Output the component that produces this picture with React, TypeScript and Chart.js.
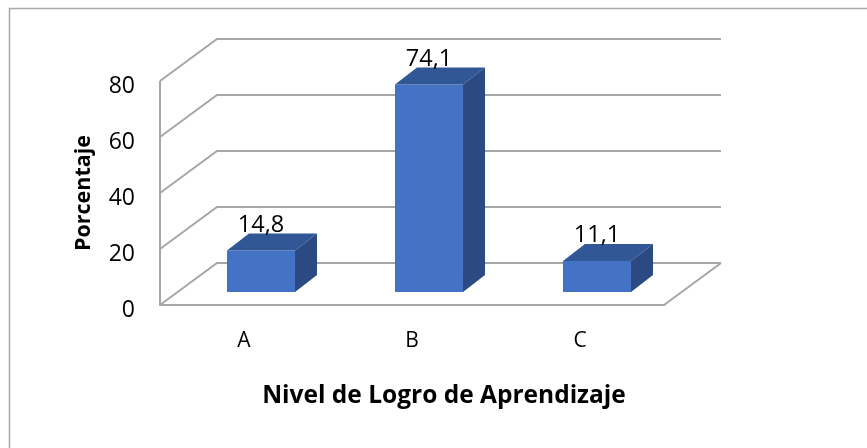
import React, { useEffect, useRef } from "react";
import { Chart, registerables } from "chart.js";

Chart.register(...registerables);

const categories = ["A", "B", "C"];
const values = [14.8, 74.1, 11.1];
const valueLabels = ["14,8", "74,1", "11,1"];
const yTicks = [0, 20, 40, 60, 80];
const yTitle = "Porcentaje";
const xTitle = "Nivel de Logro de Aprendizaje";

const FONT = "'Open Sans', sans-serif";
const GRID = "#a6a6a6";
const TEXT = "#000000";

const WALL_DX = 57;
const WALL_DY = -42;
const BAR_SHIFT_X = 17;
const BAR_SHIFT_Y = -13;
const BAR_DX = 22;
const BAR_DY = -17;

const decor = {
  id: "decor3d",
  beforeDatasetsDraw(chart: any) {
    const { ctx, chartArea, scales } = chart;
    const y = scales.y;
    ctx.save();
    // Page frame
    ctx.strokeStyle = "#a9a9a9";
    ctx.lineWidth = 1.5;
    ctx.beginPath();
    ctx.moveTo(9.5, 448);
    ctx.lineTo(9.5, 8.5);
    ctx.lineTo(867, 8.5);
    ctx.stroke();
    // 3D walls
    ctx.strokeStyle = GRID;
    ctx.lineWidth = 2;
    const l = chartArea.left;
    const r = chartArea.right;
    yTicks.forEach((t) => {
      const py = y.getPixelForValue(t);
      ctx.beginPath();
      ctx.moveTo(l, py);
      ctx.lineTo(l + WALL_DX, py + WALL_DY);
      ctx.lineTo(r + WALL_DX, py + WALL_DY);
      ctx.stroke();
    });
    ctx.beginPath();
    ctx.moveTo(l, y.getPixelForValue(80));
    ctx.lineTo(l, y.getPixelForValue(0));
    ctx.lineTo(r, y.getPixelForValue(0));
    ctx.lineTo(r + WALL_DX, y.getPixelForValue(0) + WALL_DY);
    ctx.stroke();
    ctx.restore();
    // Bars are drawn shifted back on the floor
    ctx.save();
    ctx.translate(BAR_SHIFT_X, BAR_SHIFT_Y);
  },
  afterDatasetsDraw(chart: any) {
    const { ctx } = chart;
    const meta = chart.getDatasetMeta(0);
    meta.data.forEach((bar: any, i: number) => {
      const half = bar.width / 2;
      const x0 = bar.x - half;
      const x1 = bar.x + half;
      const top = bar.y;
      const base = bar.base;
      ctx.fillStyle = "#325796";
      ctx.beginPath();
      ctx.moveTo(x0, top);
      ctx.lineTo(x0 + BAR_DX, top + BAR_DY);
      ctx.lineTo(x1 + BAR_DX, top + BAR_DY);
      ctx.lineTo(x1, top);
      ctx.closePath();
      ctx.fill();
      ctx.fillStyle = "#2b4a82";
      ctx.beginPath();
      ctx.moveTo(x1, top);
      ctx.lineTo(x1 + BAR_DX, top + BAR_DY);
      ctx.lineTo(x1 + BAR_DX, base + BAR_DY);
      ctx.lineTo(x1, base);
      ctx.closePath();
      ctx.fill();
      ctx.fillStyle = TEXT;
      ctx.font = `23.5px ${FONT}`;
      ctx.textAlign = "center";
      ctx.textBaseline = "alphabetic";
      ctx.fillText(valueLabels[i], bar.x, top - 19);
    });
    ctx.restore();
    // Axis title
    ctx.save();
    ctx.fillStyle = TEXT;
    ctx.font = `bold 24.5px ${FONT}`;
    ctx.textAlign = "center";
    ctx.textBaseline = "alphabetic";
    ctx.fillText(xTitle, 444, 403);
    ctx.restore();
  },
};

export default function App() {
  const ref = useRef<HTMLCanvasElement>(null);
  useEffect(() => {
    document.body.style.margin = "0";
    const chart = new Chart(ref.current!, {
      type: "bar",
      data: {
        labels: categories,
        datasets: [
          {
            data: values,
            backgroundColor: "#4472c4",
            borderWidth: 0,
            categoryPercentage: 1,
            barPercentage: 0.405,
          },
        ],
      },
      options: {
        responsive: false,
        animation: false,
        layout: { padding: { left: 71, right: 203, top: 81, bottom: 0 } },
        plugins: { legend: { display: false }, tooltip: { enabled: false } },
        scales: {
          x: {
            grid: { display: false, drawTicks: false },
            border: { display: false },
            ticks: {
              color: TEXT,
              font: { family: FONT, size: 21 },
              padding: 23,
              maxRotation: 0,
            },
            afterFit(scale: any) {
              scale.height = 143;
            },
          },
          y: {
            min: 0,
            max: 80,
            grid: { display: false, drawTicks: false },
            border: { display: false },
            ticks: {
              stepSize: 20,
              color: TEXT,
              font: { family: FONT, size: 23 },
              padding: 25,
              labelOffset: 5,
            },
            title: {
              display: true,
              text: yTitle,
              color: TEXT,
              font: { family: FONT, size: 21.5, weight: "bold" },
              padding: 0,
            },
            afterFit(scale: any) {
              scale.width = 89;
            },
          },
        },
      },
      plugins: [decor],
    } as any);
    return () => chart.destroy();
  }, []);
  return <canvas ref={ref} width={867} height={448} style={{ display: "block" }} />;
}
